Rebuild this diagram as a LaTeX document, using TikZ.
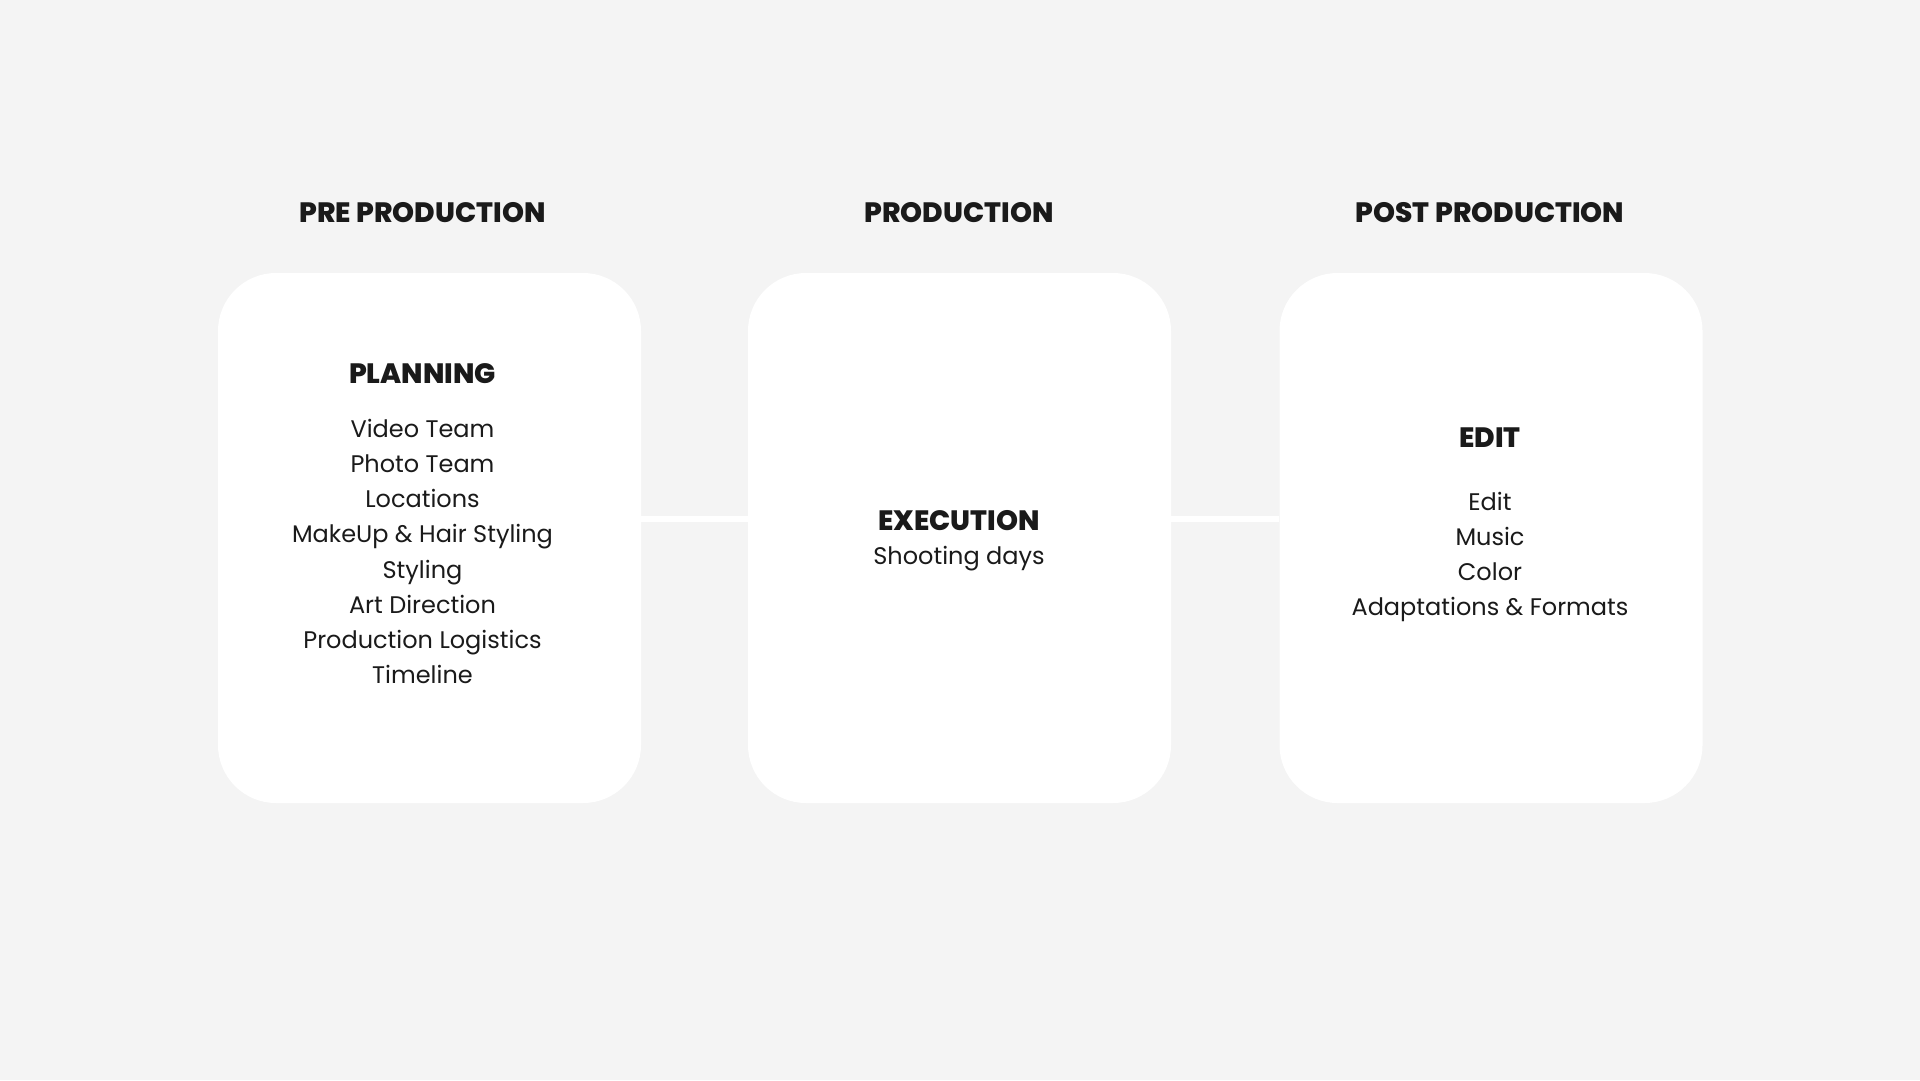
\documentclass[tikz,border=0pt]{standalone}
\usepackage{fontspec}
\setmainfont{Poppins}
\IfFontExistsTF{Poppins ExtraBold}
  {\newfontfamily\heavy{Poppins ExtraBold}}
  {\newfontfamily\heavy{Poppins}[UprightFont=*-Bold]}
\definecolor{bgc}{HTML}{F4F4F4}
\definecolor{txt}{HTML}{1A1A1A}
\tikzset{
  card/.style={draw=none,fill=white,rounded corners=58pt,minimum width=423pt,minimum height=530pt,inner sep=0pt},
  head/.style={anchor=base,text=txt,inner sep=0pt,font=\fontsize{28}{30}\selectfont\heavy},
  item/.style={anchor=base,text=txt,inner sep=0pt,font=\fontsize{24}{26}\selectfont},
  link/.style={draw=white,line width=6pt}
}
\begin{document}
\begin{tikzpicture}[x=1pt,y=-1pt]
\useasboundingbox[fill=bgc] (0,0) rectangle (1920,1080);
% cards
\node[card] (c1) at (429.5,538) {};
\node[card] (c2) at (959.5,538) {};
\node[card] (c3) at (1491,538) {};
% connectors
\draw[link] ([yshift=19pt]c1.east) -- ([yshift=19pt]c2.west);
\draw[link] ([yshift=19pt]c2.east) -- ([yshift=19pt]c3.west);
% column headings
\node[head] (h1) at (422.5,222) {PRE PRODUCTION};
\node[head] (h2) at (959,222) {PRODUCTION};
\node[head] (h3) at (1490,222) {POST PRODUCTION};
% card 1
\node[head] (t1) at (422.5,383.5) {PLANNING};
\foreach \s [count=\i from 0] in {Video Team,Photo Team,Locations,MakeUp \& Hair Styling,Styling,Art Direction,Production Logistics,Timeline}
  \node[item] (a\i) at (422.5,437.6+35.1*\i) {\s};
% card 2
\node[head] (t2) at (959,530) {EXECUTION};
\node[item] (b0) at (959,564) {Shooting days};
% card 3
\node[head] (t3) at (1490,447) {EDIT};
\foreach \s [count=\i from 0] in {Edit,Music,Color,Adaptations \& Formats}
  \node[item] (e\i) at (1490,510+35.1*\i) {\s};
\end{tikzpicture}
\end{document}
